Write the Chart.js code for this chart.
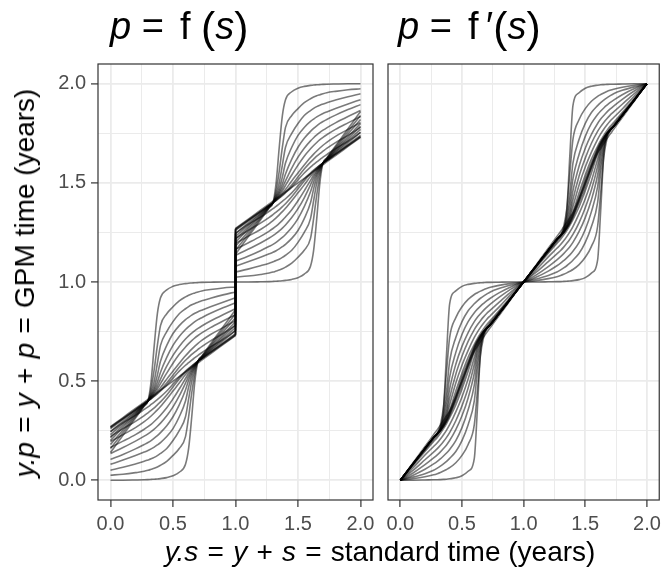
<!DOCTYPE html>
<html>
<head>
<meta charset="utf-8">
<script src="https://cdn.jsdelivr.net/npm/chart.js@4.4.1/dist/chart.umd.min.js"></script>
<style>
  body { margin:0; background:#fff; width:666px; height:577px; position:relative; overflow:hidden;
         font-family:"Liberation Sans", Arial, sans-serif; }
  canvas { position:absolute; top:0; }
  #cvLeft { left:0; }
  #cvRight { left:380px; }
  .panelTitle { position:absolute; top:6px; font-size:38px; line-height:1; color:#000; white-space:nowrap; }
  .panelTitle .eq { margin:0 0.42em 0 0.28em; }
  .panelTitle .par { font-size:1.12em; vertical-align:-0.06em; }
  .axisTitle { position:absolute; font-size:28px; line-height:1; color:#000; white-space:nowrap; }
  .axisTitle .eq { margin:0 0.33em; }
  #xTitle { left:380px; top:538px; transform:translateX(-50%); }
  #yTitle { left:25px; top:283px; transform:translate(-50%,-50%) rotate(-90deg); }
</style>
</head>
<body>
<canvas id="cvLeft" width="380" height="577" style="width:380px;height:577px"></canvas>
<canvas id="cvRight" width="286" height="577" style="width:286px;height:577px"></canvas>

<div class="panelTitle" style="left:110px"><i>p</i><span class="eq">=</span>f <span class="par">(</span><i>s</i><span class="par">)</span></div>
<div class="panelTitle" style="left:398px"><i>p</i><span class="eq">=</span>f&thinsp;&prime;<span class="par">(</span><i>s</i><span class="par">)</span></div>
<div class="axisTitle" id="xTitle"><i>y.s</i><span class="eq">=</span><i>y</i><span class="eq">+</span><i>s</i><span class="eq">=</span>standard time (years)</div>
<div class="axisTitle" id="yTitle"><i>y.p</i><span class="eq">=</span><i>y</i><span class="eq">+</span><i>p</i><span class="eq">=</span>GPM time (years)</div>

<script>
// standard time within a year, shared by every curve
const sGrid = [0, 0.1, 0.2, 0.27, 0.3, 0.325, 0.35, 0.375, 0.4, 0.45, 0.5,
               0.55, 0.6, 0.625, 0.65, 0.675, 0.7, 0.73, 0.8, 0.9, 1];
// each curve is drawn for year 0 and year 1 (y.s = y + s, y.p = y + p)
const years = [0, 1];
const tickLabels = ['0.0', '0.5', '1.0', '1.5', '2.0'];

// p = f(s): curves that rise early
const fEarly = [
  [0.14, 0.227, 0.313, 0.374, 0.40, 0.50, 0.68, 0.84, 0.92, 0.96, 0.978, 0.987, 0.992, 0.994, 0.995, 0.996, 0.997, 0.998, 0.999, 1, 1],
  [0.16, 0.24, 0.32, 0.376, 0.40, 0.46, 0.56, 0.68, 0.78, 0.84, 0.875, 0.905, 0.925, 0.933, 0.94, 0.945, 0.95, 0.955, 0.962, 0.97, 0.975],
  [0.18, 0.253, 0.327, 0.378, 0.40, 0.44, 0.50, 0.59, 0.68, 0.75, 0.80, 0.84, 0.865, 0.876, 0.885, 0.892, 0.898, 0.905, 0.918, 0.935, 0.95],
  [0.20, 0.267, 0.333, 0.38, 0.40, 0.43, 0.47, 0.53, 0.60, 0.68, 0.74, 0.78, 0.81, 0.822, 0.833, 0.842, 0.85, 0.858, 0.875, 0.898, 0.92],
  [0.215, 0.277, 0.338, 0.382, 0.40, 0.425, 0.455, 0.495, 0.545, 0.62, 0.68, 0.725, 0.76, 0.775, 0.788, 0.80, 0.81, 0.82, 0.842, 0.87, 0.895],
  [0.23, 0.287, 0.343, 0.383, 0.40, 0.42, 0.445, 0.475, 0.51, 0.575, 0.63, 0.675, 0.712, 0.728, 0.742, 0.755, 0.766, 0.778, 0.803, 0.835, 0.865],
  [0.245, 0.297, 0.348, 0.385, 0.40, 0.417, 0.437, 0.46, 0.487, 0.54, 0.59, 0.635, 0.672, 0.689, 0.704, 0.718, 0.73, 0.743, 0.77, 0.803, 0.835],
  [0.26, 0.307, 0.353, 0.386, 0.40, 0.414, 0.43, 0.448, 0.467, 0.51, 0.55, 0.59, 0.628, 0.645, 0.661, 0.676, 0.69, 0.705, 0.735, 0.77, 0.805],
  [0.265, 0.31, 0.355, 0.387, 0.40, 0.412, 0.425, 0.44, 0.455, 0.49, 0.53, 0.57, 0.605, 0.62, 0.635, 0.648, 0.66, 0.674, 0.703, 0.74, 0.78],
  [0.268, 0.312, 0.356, 0.388, 0.40, 0.411, 0.423, 0.436, 0.45, 0.48, 0.515, 0.55, 0.58, 0.593, 0.606, 0.618, 0.63, 0.643, 0.673, 0.71, 0.755]
];
// p = f(s): the straight one
const fLinear = [0.27, 0.316, 0.362, 0.394, 0.408, 0.42, 0.431, 0.443, 0.454, 0.477, 0.50, 0.523, 0.546, 0.558, 0.569, 0.581, 0.592, 0.606, 0.638, 0.684, 0.73];
// p = f(s): curves that rise late
const fLate = [
  [0, 0, 0.001, 0.002, 0.003, 0.004, 0.005, 0.006, 0.008, 0.013, 0.022, 0.04, 0.08, 0.16, 0.32, 0.50, 0.60, 0.626, 0.687, 0.773, 0.86],
  [0.025, 0.03, 0.038, 0.045, 0.05, 0.055, 0.06, 0.067, 0.075, 0.095, 0.125, 0.16, 0.22, 0.32, 0.44, 0.54, 0.60, 0.624, 0.68, 0.76, 0.84],
  [0.05, 0.065, 0.082, 0.095, 0.102, 0.108, 0.115, 0.124, 0.135, 0.16, 0.20, 0.25, 0.32, 0.41, 0.50, 0.56, 0.60, 0.622, 0.673, 0.747, 0.82],
  [0.08, 0.102, 0.125, 0.142, 0.15, 0.158, 0.167, 0.178, 0.19, 0.22, 0.26, 0.32, 0.40, 0.47, 0.53, 0.57, 0.60, 0.62, 0.667, 0.733, 0.80],
  [0.105, 0.13, 0.158, 0.18, 0.19, 0.20, 0.212, 0.225, 0.24, 0.275, 0.32, 0.38, 0.455, 0.505, 0.545, 0.575, 0.60, 0.618, 0.662, 0.723, 0.785],
  [0.135, 0.165, 0.197, 0.222, 0.234, 0.245, 0.258, 0.272, 0.288, 0.325, 0.37, 0.425, 0.49, 0.525, 0.555, 0.58, 0.60, 0.617, 0.657, 0.713, 0.77],
  [0.165, 0.197, 0.23, 0.257, 0.27, 0.282, 0.296, 0.311, 0.328, 0.365, 0.41, 0.46, 0.513, 0.54, 0.563, 0.583, 0.60, 0.615, 0.652, 0.703, 0.755],
  [0.195, 0.23, 0.265, 0.295, 0.31, 0.324, 0.339, 0.355, 0.372, 0.41, 0.45, 0.49, 0.533, 0.552, 0.57, 0.586, 0.60, 0.614, 0.647, 0.693, 0.74],
  [0.22, 0.26, 0.297, 0.326, 0.34, 0.352, 0.365, 0.38, 0.395, 0.43, 0.47, 0.51, 0.545, 0.56, 0.575, 0.588, 0.60, 0.613, 0.645, 0.69, 0.735],
  [0.245, 0.29, 0.327, 0.357, 0.37, 0.382, 0.394, 0.407, 0.42, 0.45, 0.485, 0.52, 0.55, 0.564, 0.577, 0.589, 0.60, 0.612, 0.644, 0.688, 0.732]
];

// p = f'(s): early risers
const dEarly = [
  [0, 0.08, 0.16, 0.215, 0.23, 0.26, 0.36, 0.64, 0.89, 0.955, 0.978, 0.988, 0.993, 0.995, 0.996, 0.997, 0.998, 0.998, 0.999, 1, 1],
  [0, 0.08, 0.16, 0.215, 0.235, 0.28, 0.37, 0.55, 0.72, 0.82, 0.875, 0.912, 0.937, 0.946, 0.954, 0.961, 0.967, 0.973, 0.983, 0.993, 1],
  [0, 0.08, 0.16, 0.215, 0.235, 0.265, 0.33, 0.45, 0.60, 0.72, 0.80, 0.855, 0.89, 0.905, 0.918, 0.929, 0.939, 0.95, 0.967, 0.985, 1],
  [0, 0.08, 0.16, 0.215, 0.235, 0.258, 0.31, 0.40, 0.52, 0.645, 0.735, 0.80, 0.845, 0.863, 0.878, 0.892, 0.905, 0.918, 0.945, 0.976, 1],
  [0, 0.08, 0.16, 0.215, 0.235, 0.255, 0.295, 0.36, 0.46, 0.585, 0.675, 0.745, 0.80, 0.822, 0.84, 0.857, 0.872, 0.888, 0.922, 0.965, 1],
  [0, 0.08, 0.16, 0.215, 0.235, 0.253, 0.285, 0.335, 0.415, 0.535, 0.625, 0.70, 0.76, 0.784, 0.805, 0.824, 0.841, 0.858, 0.897, 0.952, 1],
  [0, 0.08, 0.16, 0.215, 0.235, 0.252, 0.28, 0.32, 0.38, 0.49, 0.58, 0.655, 0.72, 0.747, 0.771, 0.792, 0.811, 0.83, 0.873, 0.94, 1],
  [0, 0.08, 0.16, 0.215, 0.235, 0.251, 0.276, 0.308, 0.35, 0.45, 0.54, 0.62, 0.685, 0.714, 0.74, 0.763, 0.784, 0.805, 0.855, 0.928, 1],
  [0, 0.08, 0.16, 0.215, 0.235, 0.25, 0.272, 0.30, 0.335, 0.425, 0.52, 0.60, 0.668, 0.70, 0.727, 0.75, 0.772, 0.795, 0.848, 0.924, 1],
  [0, 0.08, 0.16, 0.215, 0.235, 0.249, 0.27, 0.295, 0.326, 0.41, 0.505, 0.585, 0.655, 0.688, 0.716, 0.74, 0.762, 0.788, 0.845, 0.922, 1]
];
// p = f'(s): the middle curve
const dMid = [0, 0.085, 0.17, 0.23, 0.255, 0.278, 0.30, 0.325, 0.35, 0.425, 0.50, 0.575, 0.65, 0.675, 0.70, 0.722, 0.745, 0.77, 0.83, 0.915, 1];
// p = f'(s): late risers
const dLate = [
  [0, 0, 0.001, 0.002, 0.002, 0.003, 0.004, 0.005, 0.007, 0.012, 0.022, 0.045, 0.11, 0.36, 0.64, 0.74, 0.77, 0.785, 0.84, 0.92, 1],
  [0, 0.007, 0.017, 0.027, 0.033, 0.039, 0.046, 0.054, 0.063, 0.088, 0.125, 0.18, 0.28, 0.45, 0.63, 0.72, 0.765, 0.785, 0.84, 0.92, 1],
  [0, 0.015, 0.033, 0.05, 0.061, 0.071, 0.082, 0.095, 0.11, 0.145, 0.20, 0.28, 0.40, 0.55, 0.67, 0.735, 0.765, 0.785, 0.84, 0.92, 1],
  [0, 0.024, 0.055, 0.082, 0.095, 0.108, 0.122, 0.137, 0.155, 0.20, 0.265, 0.355, 0.48, 0.60, 0.69, 0.742, 0.765, 0.785, 0.84, 0.92, 1],
  [0, 0.035, 0.078, 0.112, 0.128, 0.143, 0.16, 0.178, 0.20, 0.255, 0.325, 0.415, 0.54, 0.64, 0.705, 0.745, 0.765, 0.785, 0.84, 0.92, 1],
  [0, 0.048, 0.103, 0.142, 0.159, 0.176, 0.195, 0.216, 0.24, 0.30, 0.375, 0.465, 0.585, 0.665, 0.715, 0.747, 0.765, 0.785, 0.84, 0.92, 1],
  [0, 0.06, 0.127, 0.17, 0.189, 0.208, 0.229, 0.253, 0.28, 0.345, 0.42, 0.51, 0.62, 0.68, 0.72, 0.748, 0.765, 0.785, 0.84, 0.92, 1],
  [0, 0.072, 0.145, 0.195, 0.216, 0.237, 0.26, 0.286, 0.315, 0.38, 0.46, 0.55, 0.65, 0.692, 0.724, 0.749, 0.765, 0.785, 0.84, 0.92, 1],
  [0, 0.076, 0.152, 0.205, 0.228, 0.25, 0.273, 0.30, 0.332, 0.40, 0.48, 0.575, 0.665, 0.70, 0.728, 0.75, 0.765, 0.785, 0.84, 0.92, 1],
  [0, 0.078, 0.155, 0.212, 0.238, 0.26, 0.284, 0.312, 0.345, 0.415, 0.495, 0.59, 0.674, 0.705, 0.73, 0.751, 0.765, 0.785, 0.84, 0.92, 1]
];

const FONT = '"Liberation Sans", Arial, sans-serif';
const LINE = 'rgba(0,0,0,0.52)';

function isMajor(v) {
  return Math.abs(v * 2 - Math.round(v * 2)) < 1e-6;
}

function lineSet(points) {
  return {
    data: points,
    borderColor: LINE,
    borderWidth: 1.6,
    pointRadius: 0,
    fill: false,
    cubicInterpolationMode: 'monotone'
  };
}

// one dataset per curve per year; f(s) also gets the jump at the year boundary
function buildSets(curves, withJump) {
  const sets = [];
  curves.forEach(p => {
    years.forEach(y => {
      sets.push(lineSet(sGrid.map((s, i) => ({ x: y + s, y: y + p[i] }))));
    });
    if (withJump) {
      sets.push(lineSet([{ x: 1, y: p[p.length - 1] }, { x: 1, y: 1 + p[0] }]));
    }
  });
  return sets;
}

function axis(showLabels, horizontal, size) {
  return {
    type: 'linear',
    min: -0.1,
    max: 2.1,
    border: { display: false },
    grid: {
      color: '#EBEBEB',
      lineWidth: c => isMajor(c.tick.value) ? 1.8 : 1,
      drawTicks: showLabels,
      tickLength: 7,
      tickWidth: 1.2,
      tickColor: c => isMajor(c.tick.value) ? '#333333' : 'rgba(0,0,0,0)'
    },
    ticks: {
      display: showLabels,
      stepSize: 0.25,
      includeBounds: false,
      autoSkip: false,
      maxRotation: 0,
      padding: 5,
      color: '#4D4D4D',
      font: { family: FONT, size: 20 },
      callback: v => isMajor(v) ? tickLabels[Math.round(v * 2)] : ''
    },
    afterFit: s => { if (horizontal) s.height = size; else s.width = size; }
  };
}

// full panel frame (Chart.js only draws axis borders on two sides)
const panelBorder = {
  id: 'panelBorder',
  afterDraw(chart) {
    const { ctx, chartArea: a } = chart;
    ctx.save();
    ctx.strokeStyle = '#333333';
    ctx.lineWidth = 1.2;
    ctx.strokeRect(a.left, a.top, a.right - a.left, a.bottom - a.top);
    ctx.restore();
  }
};

function makeChart(id, sets, yLabels, padding, yWidth) {
  return new Chart(document.getElementById(id), {
    type: 'line',
    data: { datasets: sets },
    options: {
      responsive: false,
      animation: false,
      events: [],
      layout: { padding: padding },
      plugins: { legend: { display: false }, tooltip: { enabled: false } },
      scales: {
        x: axis(true, true, 77),
        y: axis(yLabels, false, yWidth)
      }
    },
    plugins: [panelBorder]
  });
}

const leftSets = buildSets([].concat(fEarly, [fLinear], fLate), true);
const rightSets = buildSets([].concat(dEarly, [dMid], dLate), false);

makeChart('cvLeft', leftSets, true, { left: 0, top: 64, right: 7, bottom: 0 }, 98);
makeChart('cvRight', rightSets, false, { left: 8, top: 64, right: 4, bottom: 0 }, 0);
</script>
</body>
</html>
